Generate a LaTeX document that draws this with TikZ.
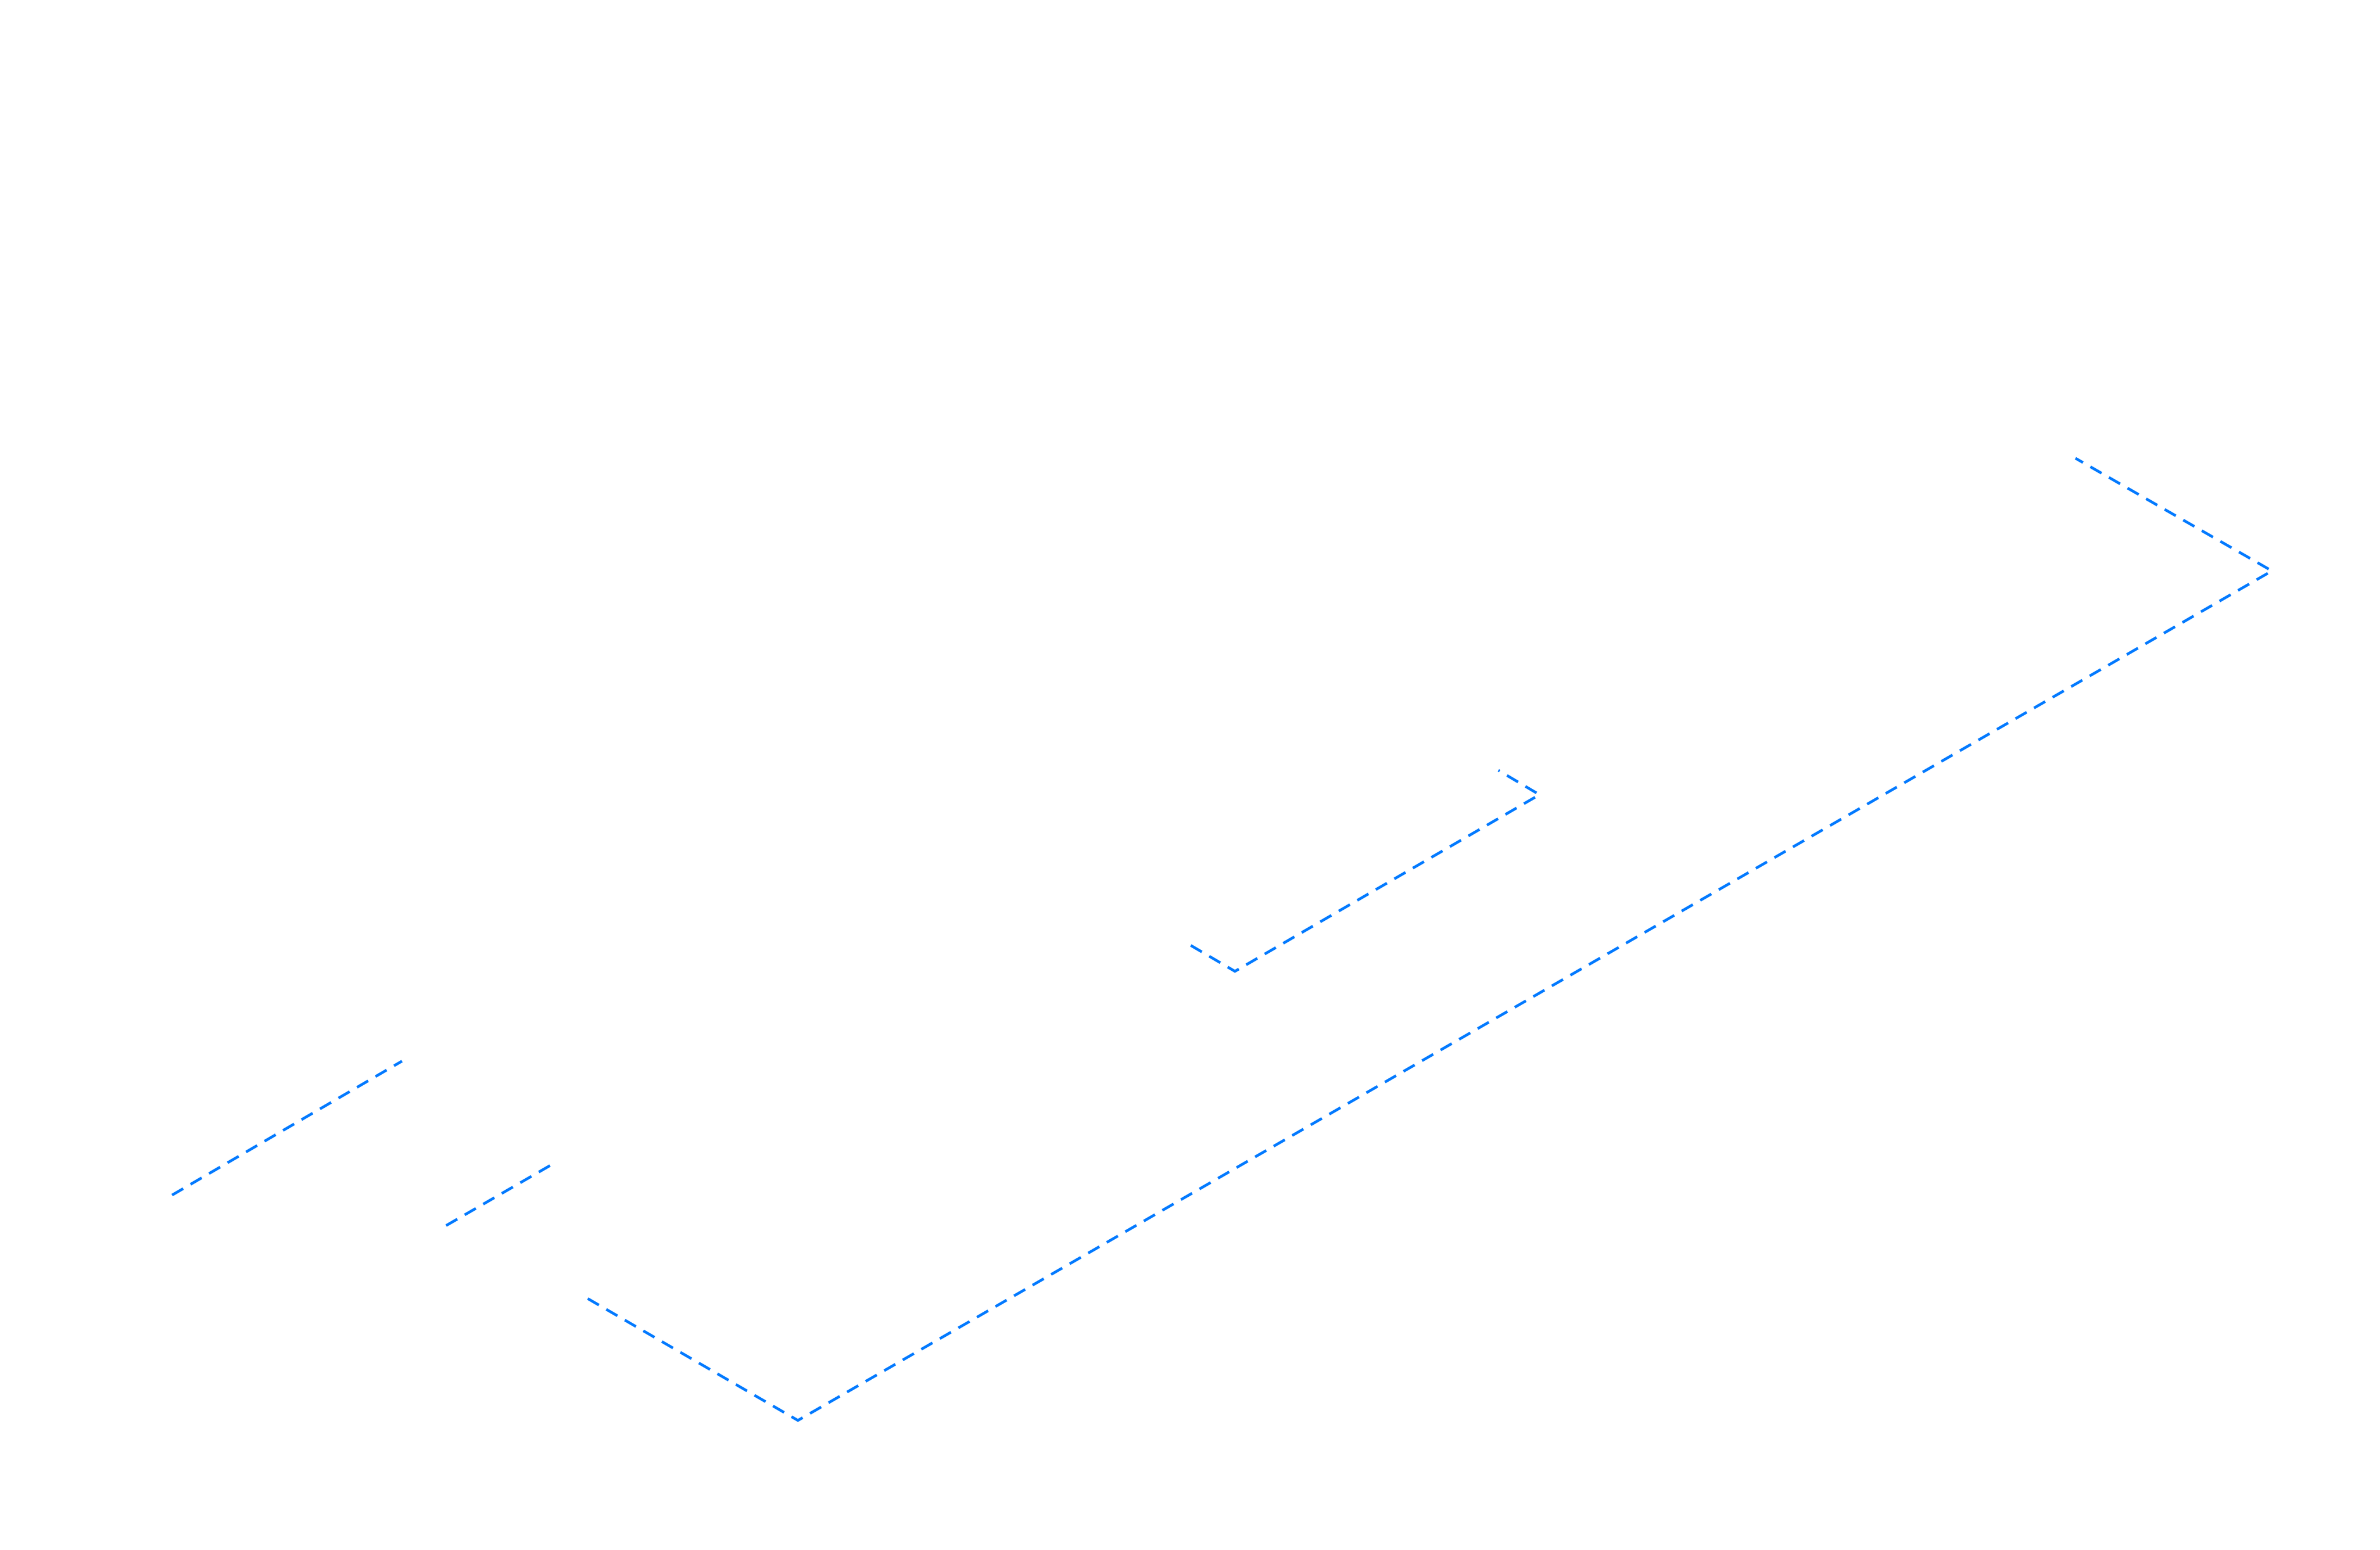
\documentclass[tikz,border=0pt]{standalone}
\usepackage{tikz}
\definecolor{guideblue}{RGB}{0,122,255}
\tikzset{guide/.style={draw=guideblue,line width=0.5pt,dash pattern=on 2.4pt off 1.6pt}}
\begin{document}
\begin{tikzpicture}[x=0.1mm,y=-0.1mm]
                \useasboundingbox (0,0) rectangle (1563,1018);
                \coordinate (a1) at (113,785);
                \coordinate (a2) at (264,697);
                \coordinate (b1) at (293,805);
                \coordinate (b2) at (364,764);
                \coordinate (c1) at (386,853);
                \coordinate (c2) at (524,933);
                \coordinate (c3) at (1492,375);
                \coordinate (c4) at (1363,301);
                \coordinate (d1) at (782,621);
                \coordinate (d2) at (811,638);
                \coordinate (d3) at (1011,522);
                \coordinate (d4) at (984,506);

                \draw[guide] (a1) -- (a2);
                \draw[guide] (b1) -- (b2);
                \draw[guide] (c1) -- (c2) -- (c3) -- (c4);
                \draw[guide] (d1) -- (d2) -- (d3) -- (d4);
\end{tikzpicture}
\end{document}
